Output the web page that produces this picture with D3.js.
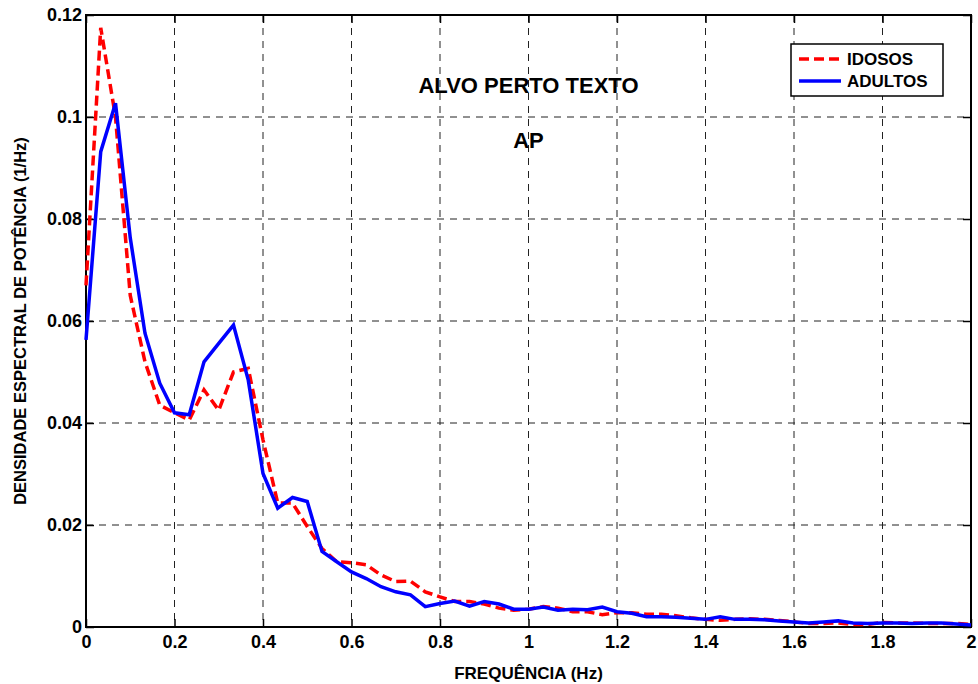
<!DOCTYPE html>
<html>
<head>
<meta charset="utf-8">
<script src="https://cdn.jsdelivr.net/npm/d3@7"></script>
<style>
	body { margin: 0; background: #fff; }
	svg text { font-family: 'Liberation Sans', Arial, sans-serif; font-weight: bold; fill: #000; }
</style>
</head>
<body>
<div id="chart"></div>
<script>
let width = 978
let height = 684

let margins = {
	'top': 15,
	'right': 7,
	'bottom': 57,
	'left': 86,
}

// frequency bins (Hz)
let freqs = [0, 0.0333, 0.0667, 0.1, 0.1333, 0.1667, 0.2, 0.2333, 0.2667, 0.3,
	0.3333, 0.3667, 0.4, 0.4333, 0.4667, 0.5, 0.5333, 0.5667, 0.6, 0.6333,
	0.6667, 0.7, 0.7333, 0.7667, 0.8, 0.8333, 0.8667, 0.9, 0.9333, 0.9667,
	1, 1.0333, 1.0667, 1.1, 1.1333, 1.1667, 1.2, 1.2333, 1.2667, 1.3,
	1.3333, 1.3667, 1.4, 1.4333, 1.4667, 1.5, 1.5333, 1.5667, 1.6, 1.6333,
	1.6667, 1.7, 1.7333, 1.7667, 1.8, 1.8333, 1.8667, 1.9, 1.9333, 1.9667, 2]

let idosos = [0.067, 0.1175, 0.100, 0.065, 0.052, 0.0435, 0.042, 0.0406, 0.0465, 0.0425,
	0.050, 0.0507, 0.0367, 0.0243, 0.0243, 0.0197, 0.0154, 0.0128, 0.0126, 0.0122,
	0.0102, 0.0089, 0.009, 0.0069, 0.0059, 0.005, 0.005, 0.0045, 0.0037, 0.0033,
	0.0035, 0.004, 0.0037, 0.003, 0.003, 0.0024, 0.0028, 0.0028, 0.0025, 0.0025,
	0.0022, 0.0018, 0.0015, 0.0013, 0.0015, 0.0016, 0.0015, 0.0013, 0.001, 0.0007,
	0.0007, 0.0008, 0.0005, 0.0005, 0.0009, 0.0008, 0.0008, 0.0007, 0.0007, 0.0007, 0.0005]

let adultos = [0.0563, 0.0932, 0.1027, 0.0763, 0.0576, 0.0478, 0.042, 0.0416, 0.052, 0.0556,
	0.0592, 0.0484, 0.0301, 0.0233, 0.0254, 0.0246, 0.0148, 0.0128, 0.0108, 0.0095,
	0.0079, 0.0069, 0.0063, 0.004, 0.0046, 0.0051, 0.0041, 0.005, 0.0045, 0.0035,
	0.0035, 0.0039, 0.0033, 0.0035, 0.0034, 0.0039, 0.003, 0.0027, 0.002, 0.002,
	0.0019, 0.0017, 0.0015, 0.002, 0.0015, 0.0015, 0.0014, 0.0012, 0.001, 0.0008,
	0.001, 0.0012, 0.0008, 0.0007, 0.0008, 0.0008, 0.0007, 0.0008, 0.0008, 0.0006, 0.0004]

let xTicks = [0, 0.2, 0.4, 0.6, 0.8, 1, 1.2, 1.4, 1.6, 1.8, 2]
let yTicks = [0, 0.02, 0.04, 0.06, 0.08, 0.1, 0.12]

let seriesNames = ['IDOSOS', 'ADULTOS']

let innerW = width - margins.left - margins.right
let innerH = height - margins.top - margins.bottom

let xScale = d3.scaleLinear()
	.domain([0, 2])
	.range([0, innerW])

let yScale = d3.scaleLinear()
	.domain([0, 0.12])
	.range([innerH, 0])

let svg = d3.select('#chart').append('svg')
	.attr('width', width)
	.attr('height', height)

let inner = svg.append('g')
	.attr('transform', 'translate(' + margins.left + ',' + margins.top + ')')

// grid
let grid = inner.append('g')
grid.selectAll('.vgrid')
	.data(xTicks.slice(1, -1))
	.enter().append('line')
	.attr('x1', d => xScale(d)).attr('x2', d => xScale(d))
	.attr('y1', 0).attr('y2', innerH)
	.attr('stroke', '#222').attr('stroke-width', 1)
	.attr('stroke-dasharray', '7,6')
grid.selectAll('.hgrid')
	.data(yTicks.slice(1, -1))
	.enter().append('line')
	.attr('x1', 0).attr('x2', innerW)
	.attr('y1', d => yScale(d)).attr('y2', d => yScale(d))
	.attr('stroke', '#222').attr('stroke-width', 1)
	.attr('stroke-dasharray', '7,6')

// axes (ticks pointing inward)
let fmt = d => d3.format('~g')(d)

let xAxis = inner.append('g')
	.attr('transform', `translate(0,${innerH})`)
	.call(d3.axisBottom(xScale).tickValues(xTicks).tickFormat(fmt).tickSize(-8).tickPadding(8))
let xAxisTop = inner.append('g')
	.call(d3.axisTop(xScale).tickValues(xTicks).tickFormat('').tickSize(-8))
let yAxis = inner.append('g')
	.call(d3.axisLeft(yScale).tickValues(yTicks).tickFormat(fmt).tickSize(-8).tickPadding(4))
let yAxisRight = inner.append('g')
	.attr('transform', `translate(${innerW},0)`)
	.call(d3.axisRight(yScale).tickValues(yTicks).tickFormat('').tickSize(-8))

inner.selectAll('.domain').remove()
inner.selectAll('.tick line').attr('stroke', '#000').attr('stroke-width', 1.5)
inner.selectAll('.tick text')
	.style('font-size', '18px')
	.attr('fill', '#000')

inner.append('rect')
	.attr('width', innerW)
	.attr('height', innerH)
	.attr('fill', 'none')
	.attr('stroke', '#000')
	.attr('stroke-width', 2)

// lines
let line = d3.line()
	.x((d, i) => xScale(freqs[i]))
	.y(d => yScale(d))

inner.append('path')
	.datum(idosos)
	.attr('d', line)
	.attr('fill', 'none')
	.attr('stroke', '#ff0000')
	.attr('stroke-width', 3.5)
	.attr('stroke-dasharray', '10,5')

inner.append('path')
	.datum(adultos)
	.attr('d', line)
	.attr('fill', 'none')
	.attr('stroke', '#0000ff')
	.attr('stroke-width', 3.5)

// titles
inner.append('text')
	.attr('x', xScale(1))
	.attr('y', 78)
	.attr('text-anchor', 'middle')
	.style('font-size', '22px')
	.text('ALVO PERTO TEXTO')

inner.append('text')
	.attr('x', xScale(1))
	.attr('y', 133)
	.attr('text-anchor', 'middle')
	.style('font-size', '22px')
	.text('AP')

svg.append('text')
	.attr('x', margins.left + xScale(1))
	.attr('y', 679)
	.attr('text-anchor', 'middle')
	.style('font-size', '17px')
	.text('FREQUÊNCIA (Hz)')

svg.append('text')
	.attr('transform', `translate(26,${margins.top + innerH / 2}) rotate(-90)`)
	.attr('text-anchor', 'middle')
	.style('font-size', '16.5px')
	.text('DENSIDADE ESPECTRAL DE POTÊNCIA (1/Hz)')

// legend
let legend = svg.append('g')
	.attr('transform', 'translate(791,44)')

legend.append('rect')
	.attr('width', 152)
	.attr('height', 52)
	.attr('fill', '#fff')
	.attr('stroke', '#000')
	.attr('stroke-width', 1.5)

let legendColors = ['#ff0000', '#0000ff']
let legendDash = ['10,5', null]

seriesNames.forEach((name, i) => {
	let yy = 15 + i * 22
	legend.append('line')
		.attr('x1', 8).attr('x2', 50)
		.attr('y1', yy).attr('y2', yy)
		.attr('stroke', legendColors[i])
		.attr('stroke-width', 3.5)
		.attr('stroke-dasharray', legendDash[i])
	legend.append('text')
		.attr('x', 56)
		.attr('y', yy + 6)
		.style('font-size', '17px')
		.text(name)
})
</script>
</body>
</html>
